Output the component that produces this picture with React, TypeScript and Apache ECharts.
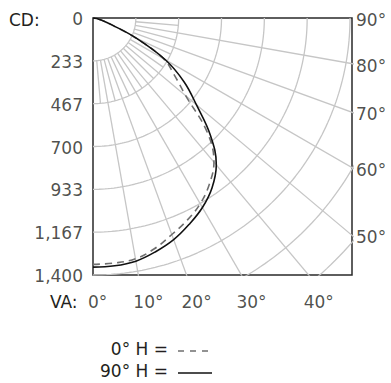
import React, { useEffect, useRef } from "react";
import * as echarts from "echarts";

// ---- data ----
const VA = [0, 5, 10, 15, 20, 25, 30, 35, 40, 45, 50, 55, 60, 65, 70, 75, 80, 85, 90];
const CD_0H = [1342, 1340, 1332, 1300, 1255, 1215, 1168, 1105, 1025, 880, 660, 540, 445, 255, 105, 52, 26, 10, 0];
const CD_90H = [1357, 1355, 1345, 1318, 1285, 1240, 1192, 1130, 1045, 905, 735, 605, 455, 260, 110, 55, 28, 10, 0];
const CD_TICKS = [0, 233, 467, 700, 933, 1167, 1400];
const BOTTOM_ANGLES = [0, 10, 20, 30, 40];
const RIGHT_ANGLES = [50, 60, 70, 80, 90];
const LEGEND_LABELS = ["0° H =", "90° H ="];

// ---- layout ----
const W = 391;
const H = 383;
const GRID = { left: 93, top: 18, width: 259, height: 257 };
const CD_MAX = CD_TICKS[CD_TICKS.length - 1];
const XMAX = (CD_MAX * GRID.width) / GRID.height;
const RING_STEP = CD_MAX / 6;
const FONT = "DejaVu Sans";
const TEXT = "#231f20";
const GRIDC = "#c6c6c6";

const rad = (d: number) => (d * Math.PI) / 180;
const toXY = (cd: number, a: number) => [cd * Math.sin(rad(a)), cd * Math.cos(rad(a))];

export default function App() {
  const ref = useRef<HTMLDivElement>(null);
  useEffect(() => {
    document.body.style.margin = "0";
    const chart = echarts.init(ref.current!, null, { renderer: "svg" });

    const gridSeries: any[] = [];
    for (let k = 1; k <= 8; k++) {
      const R = k * RING_STEP;
      const pts: number[][] = [];
      for (let a = 0; a <= 90; a += 1) pts.push(toXY(R, a));
      gridSeries.push({
        type: "line", data: pts, showSymbol: false, symbol: "none", clip: true, silent: true,
        lineStyle: { color: GRIDC, width: 1.3 }, z: 1,
      });
    }
    for (let a = 5; a < 90; a += 5) {
      const outer = a % 10 === 0 ? CD_MAX * 3 : 2 * RING_STEP;
      gridSeries.push({
        type: "line", data: [toXY(RING_STEP, a), toXY(outer, a)], showSymbol: false, symbol: "none",
        clip: true, silent: true, lineStyle: { color: GRIDC, width: 1.3 }, z: 1,
      });
    }

    const labelStyle = { fontFamily: FONT, fontSize: 17, color: TEXT };

    chart.setOption({
      animation: false,
      grid: { ...GRID, show: true, borderColor: "#2a2a2a", borderWidth: 1.5, backgroundColor: "transparent" },
      xAxis: { type: "value", min: 0, max: XMAX, show: false },
      yAxis: { type: "value", min: 0, max: CD_MAX, inverse: true, show: false },
      series: [
        ...gridSeries,
        {
          type: "line", name: "0° H", data: VA.map((a, i) => toXY(CD_0H[i], a)), smooth: 0.4,
          showSymbol: false, symbol: "none", clip: true, z: 3,
          lineStyle: { color: "#6f6f6f", width: 1.6, type: [7, 5] },
        },
        {
          type: "line", name: "90° H", data: VA.map((a, i) => toXY(CD_90H[i], a)), smooth: 0.4,
          showSymbol: false, symbol: "none", clip: true, z: 4,
          lineStyle: { color: "#111", width: 1.6 },
        },
        {
          type: "scatter", data: CD_TICKS.map((v) => [0, v]), symbolSize: 0, clip: false, silent: true,
          label: {
            show: true, position: "left", distance: 10, offset: [0, 1], ...labelStyle,
            formatter: (p: any) => CD_TICKS[p.dataIndex].toLocaleString("en-US"),
          },
        },
        {
          type: "scatter", data: RIGHT_ANGLES.map((a) => [XMAX, XMAX / Math.tan(rad(a))]), symbolSize: 0,
          clip: false, silent: true,
          label: {
            show: true, position: "right", distance: 4, offset: [0, 2], ...labelStyle,
            formatter: (p: any) => `${RIGHT_ANGLES[p.dataIndex]}°`,
          },
        },
        {
          type: "scatter", data: BOTTOM_ANGLES.map((a) => [CD_MAX * Math.tan(rad(a)), CD_MAX]), symbolSize: 0,
          clip: false, silent: true,
          label: {
            show: true, position: "bottom", distance: 18, align: "left", offset: [-5, 0], ...labelStyle,
            formatter: (p: any) => `${BOTTOM_ANGLES[p.dataIndex]}°`,
          },
        },
      ],
      graphic: [
        { type: "text", x: 9, y: 19.5, style: { text: "CD:", textAlign: "left", textVerticalAlign: "middle", font: `17px "${FONT}"`, fill: TEXT } },
        { type: "text", x: 50, y: 301.5, style: { text: "VA:", textAlign: "left", textVerticalAlign: "middle", font: `17px "${FONT}"`, fill: TEXT } },
        { type: "text", x: 168, y: 349, style: { text: LEGEND_LABELS[0], textAlign: "right", textVerticalAlign: "middle", font: `17px "${FONT}"`, fill: TEXT } },
        { type: "text", x: 168, y: 371, style: { text: LEGEND_LABELS[1], textAlign: "right", textVerticalAlign: "middle", font: `17px "${FONT}"`, fill: TEXT } },
        { type: "line", shape: { x1: 178, y1: 351, x2: 212, y2: 351 }, style: { stroke: "#6f6f6f", lineWidth: 1.6, lineDash: [6, 6] } },
        { type: "line", shape: { x1: 178, y1: 373, x2: 212, y2: 373 }, style: { stroke: "#111", lineWidth: 1.6 } },
      ],
    });
    return () => chart.dispose();
  }, []);
  return <div ref={ref} style={{ width: W, height: H }} />;
}
